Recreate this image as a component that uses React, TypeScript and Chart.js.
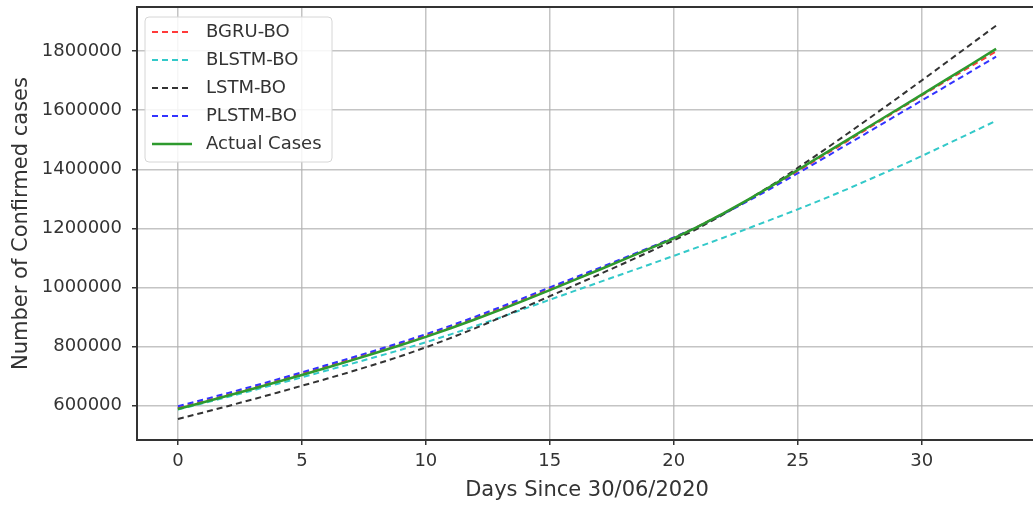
import React, { useEffect, useRef } from "react";
import { Chart, registerables } from "chart.js";

Chart.register(...registerables);

const days: number[] = Array.from({ length: 34 }, (_, i) => i);

const bgruBO: number[] = [
  592000, 614000, 636500, 659500, 683500, 708000, 732500, 757500, 783000, 809500,
  837000, 866000, 896500, 928500, 961500, 995500, 1029000, 1063000, 1097500, 1132500,
  1168500, 1207500, 1250000, 1295500, 1343500, 1393500, 1444000, 1495000, 1546500, 1598000,
  1649500, 1699500, 1749000, 1798500,
];

const blstmBO: number[] = [
  587000, 608000, 629500, 651500, 673500, 696000, 719000, 742000, 765500, 789500,
  814500, 841500, 869500, 898500, 928500, 958500, 988500, 1018000, 1047500, 1077000,
  1107000, 1137500, 1168500, 1200000, 1232000, 1264500, 1298000, 1333000, 1369500, 1406500,
  1444500, 1484000, 1524000, 1564000,
];

const lstmBO: number[] = [
  555000, 576500, 598500, 621000, 644000, 667500, 691000, 715500, 741000, 768000,
  797500, 829000, 862500, 897500, 933500, 970500, 1007500, 1044500, 1082000, 1120000,
  1159000, 1201000, 1247000, 1296500, 1349000, 1404500, 1461500, 1520000, 1579500, 1639500,
  1700500, 1762000, 1824000, 1886000,
];

const plstmBO: number[] = [
  598000, 620000, 642500, 665500, 689000, 713000, 737500, 762500, 788000, 814500,
  842000, 871000, 901500, 933500, 966500, 1000500, 1033500, 1066500, 1100000, 1134000,
  1169000, 1207000, 1248500, 1292500, 1338500, 1386500, 1435000, 1484000, 1533500, 1583000,
  1632500, 1682000, 1731500, 1781000,
];

const actualCases: number[] = [
  589000, 611000, 633500, 656500, 680000, 704000, 728500, 753500, 779000, 805500,
  833000, 862000, 892500, 924000, 957000, 991000, 1025500, 1060000, 1095000, 1130500,
  1166500, 1206500, 1250500, 1297500, 1346500, 1397500, 1448500, 1499500, 1550500, 1601500,
  1652500, 1704000, 1755500, 1807500,
];

const xTicks: number[] = [0, 5, 10, 15, 20, 25, 30];
const yTicks: number[] = [600000, 800000, 1000000, 1200000, 1400000, 1600000, 1800000];

const FONT = "'DejaVu Sans', sans-serif";

const legendPlugin = {
  id: "innerLegend",
  afterDraw(chart: any) {
    const { ctx, chartArea } = chart;
    const x0 = chartArea.left + 8;
    const y0 = chartArea.top + 10;
    const w = 187;
    const h = 145;
    ctx.save();
    ctx.beginPath();
    const r = 4;
    ctx.moveTo(x0 + r, y0);
    ctx.lineTo(x0 + w - r, y0);
    ctx.quadraticCurveTo(x0 + w, y0, x0 + w, y0 + r);
    ctx.lineTo(x0 + w, y0 + h - r);
    ctx.quadraticCurveTo(x0 + w, y0 + h, x0 + w - r, y0 + h);
    ctx.lineTo(x0 + r, y0 + h);
    ctx.quadraticCurveTo(x0, y0 + h, x0, y0 + h - r);
    ctx.lineTo(x0, y0 + r);
    ctx.quadraticCurveTo(x0, y0, x0 + r, y0);
    ctx.closePath();
    ctx.fillStyle = "rgba(255,255,255,0.85)";
    ctx.fill();
    ctx.strokeStyle = "#d6d6d6";
    ctx.lineWidth = 1;
    ctx.stroke();

    ctx.font = `18px ${FONT}`;
    ctx.textBaseline = "middle";
    ctx.textAlign = "left";
    chart.data.datasets.forEach((ds: any, i: number) => {
      const cy = y0 + 15 + i * 28;
      ctx.beginPath();
      ctx.setLineDash(ds.borderDash || []);
      ctx.strokeStyle = ds.borderColor;
      ctx.lineWidth = ds.borderWidth;
      ctx.moveTo(x0 + 7, cy);
      ctx.lineTo(x0 + 47, cy);
      ctx.stroke();
      ctx.setLineDash([]);
      ctx.fillStyle = "#333";
      ctx.fillText(ds.label, x0 + 61, cy);
    });
    ctx.restore();
  },
};

const frameTopPlugin = {
  id: "frameTop",
  afterDraw(chart: any) {
    const { ctx, chartArea } = chart;
    ctx.save();
    ctx.strokeStyle = "#333";
    ctx.lineWidth = 2;
    ctx.beginPath();
    ctx.moveTo(chartArea.left, chartArea.top);
    ctx.lineTo(chartArea.right, chartArea.top);
    ctx.lineTo(chartArea.right, chartArea.bottom);
    ctx.stroke();
    ctx.restore();
  },
};

export default function App() {
  const ref = useRef<HTMLCanvasElement | null>(null);

  useEffect(() => {
    document.body.style.margin = "0";
    const canvas = ref.current;
    if (!canvas) return;
    const mk = (label: string, data: number[], color: string, dash: number[], width: number, order: number) => ({
      label,
      data: days.map((d, i) => ({ x: d, y: data[i] })),
      borderColor: color,
      backgroundColor: color,
      borderDash: dash,
      borderWidth: width,
      pointRadius: 0,
      tension: 0,
      fill: false,
      order,
    });
    const chart = new Chart(canvas, {
      type: "line",
      data: {
        datasets: [
          mk("BGRU-BO", bgruBO, "#ff3a3a", [6, 4], 2, 4),
          mk("BLSTM-BO", blstmBO, "#33c9c9", [6, 4], 2, 3),
          mk("LSTM-BO", lstmBO, "#333333", [6, 4], 2, 2),
          mk("PLSTM-BO", plstmBO, "#3333ff", [6, 4], 2, 1),
          mk("Actual Cases", actualCases, "#2e9a2e", [], 2.5, 0),
        ],
      },
      options: {
        animation: false,
        responsive: false,
        devicePixelRatio: 1,
        layout: { padding: { top: 7, right: 3, left: 0, bottom: 0 } },
        plugins: {
          legend: { display: false },
          tooltip: { enabled: false },
        },
        scales: {
          x: {
            type: "linear",
            min: -1.65,
            max: 34.65,
            afterBuildTicks: (scale: any) => {
              scale.ticks = xTicks.map((v) => ({ value: v }));
            },
            afterFit: (scale: any) => {
              scale.height = 68;
              scale.paddingLeft = 0;
              scale.paddingRight = 0;
            },
            ticks: {
              font: { family: FONT, size: 18 },
              color: "#333",
              padding: 6,
              maxRotation: 0,
              callback: (v: any) => String(v),
            },
            grid: {
              color: "rgba(176,176,176,0.75)",
              lineWidth: 1.5,
              tickLength: 5,
              tickColor: "#333",
              tickWidth: 1.5,
            },
            border: { color: "#333", width: 2 },
            title: {
              display: true,
              text: "Days Since 30/06/2020",
              font: { family: FONT, size: 21 },
              color: "#333",
              padding: { top: 0, bottom: 5 },
            },
          },
          y: {
            type: "linear",
            min: 484000,
            max: 1949000,
            afterBuildTicks: (scale: any) => {
              scale.ticks = yTicks.map((v) => ({ value: v }));
            },
            afterFit: (scale: any) => {
              scale.width = 137;
              scale.paddingTop = 0;
              scale.paddingBottom = 0;
            },
            ticks: {
              font: { family: FONT, size: 18 },
              color: "#333",
              padding: 10,
              callback: (v: any) => String(v),
            },
            grid: {
              color: "rgba(176,176,176,0.75)",
              lineWidth: 1.5,
              tickLength: 5,
              tickColor: "#333",
              tickWidth: 1.5,
            },
            border: { color: "#333", width: 2 },
            title: {
              display: true,
              text: "Number of Confirmed cases",
              font: { family: FONT, size: 21 },
              color: "#333",
              padding: { top: 9, bottom: 0 },
            },
          },
        },
      },
      plugins: [frameTopPlugin, legendPlugin],
    });
    return () => chart.destroy();
  }, []);

  return (
    <div style={{ position: "absolute", left: 0, top: 0, width: 1033, height: 508, overflow: "hidden", background: "#fff" }}>
      <canvas ref={ref} width={1040} height={508} style={{ width: 1040, height: 508, display: "block" }} />
    </div>
  );
}
